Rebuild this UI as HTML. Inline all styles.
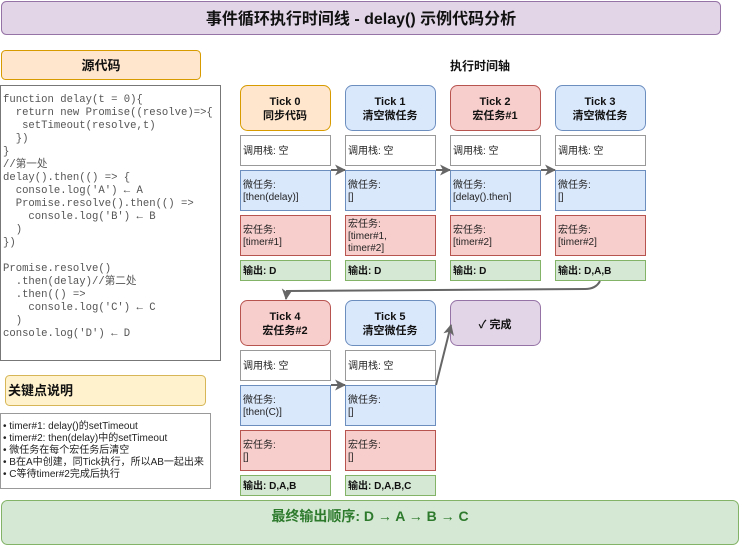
<!DOCTYPE html>
<html><head><meta charset="utf-8"><style>
html,body{margin:0;padding:0;background:#fff;width:740px;height:545px;overflow:hidden}
svg{display:block}
text{font-family:"Liberation Sans","Noto Sans CJK SC",sans-serif;}
g.m text{font-family:"Liberation Mono","Noto Sans CJK SC",monospace;font-size:10.6px;fill:#555}
.s{font-size:10px;fill:#222}
.b{font-size:11px;font-weight:bold;fill:#111}
.o{font-size:10px;font-weight:bold;fill:#111}
</style></head><body>
<svg width="740" height="545" xmlns="http://www.w3.org/2000/svg">
<defs><marker id="ar" markerWidth="11" markerHeight="11" refX="10" refY="5.5" orient="auto" markerUnits="userSpaceOnUse"><path d="M0,0 L11,5.5 L0,11 L3,5.5 z" fill="#666"/></marker></defs>
<!-- title -->
<rect x="1.5" y="1.5" width="719" height="33" rx="5" fill="#e1d5e7" stroke="#9673a6"/>
<text x="361" y="24" text-anchor="middle" font-size="16" font-weight="bold" fill="#111">事件循环执行时间线 - delay() 示例代码分析</text>
<!-- source header -->
<rect x="1.5" y="50.5" width="199" height="29" rx="4" fill="#ffe6cc" stroke="#d79b00"/>
<text x="101" y="70" text-anchor="middle" font-size="13" font-weight="bold" fill="#111">源代码</text>
<rect x="0.5" y="85.5" width="220" height="275" fill="#fff" stroke="#777"/>
<g class="m">
<text x="3" y="102">function delay(t = 0){</text>
<text x="3" y="115" xml:space="preserve">  return new Promise((resolve)=>{</text>
<text x="3" y="128" xml:space="preserve">   setTimeout(resolve,t)</text>
<text x="3" y="141" xml:space="preserve">  })</text>
<text x="3" y="154">}</text>
<text x="3" y="167">//第一处</text>
<text x="3" y="180">delay().then(() =&gt; {</text>
<text x="3" y="193" xml:space="preserve">  console.log('A') ← A</text>
<text x="3" y="206" xml:space="preserve">  Promise.resolve().then(() =&gt;</text>
<text x="3" y="219" xml:space="preserve">    console.log('B') ← B</text>
<text x="3" y="232" xml:space="preserve">  )</text>
<text x="3" y="245">})</text>
<text x="3" y="271">Promise.resolve()</text>
<text x="3" y="284" xml:space="preserve">  .then(delay)//第二处</text>
<text x="3" y="297" xml:space="preserve">  .then(() =&gt;</text>
<text x="3" y="310" xml:space="preserve">    console.log('C') ← C</text>
<text x="3" y="323" xml:space="preserve">  )</text>
<text x="3" y="336">console.log('D') ← D</text>
</g>
<!-- key points -->
<rect x="5.5" y="375.5" width="200" height="30" rx="4" fill="#fff2cc" stroke="#d6b656"/>
<text x="8" y="395" font-size="13" font-weight="bold" fill="#111">关键点说明</text>
<rect x="0.5" y="413.5" width="210" height="75" fill="#fff" stroke="#999"/>
<g class="s">
<text x="3" y="429">• timer#1: delay()的setTimeout</text>
<text x="3" y="441">• timer#2: then(delay)中的setTimeout</text>
<text x="3" y="453">• 微任务在每个宏任务后清空</text>
<text x="3" y="465">• B在A中创建，同Tick执行，所以AB一起出来</text>
<text x="3" y="477">• C等待timer#2完成后执行</text>
</g>
<text x="480" y="70" text-anchor="middle" font-size="12" font-weight="bold" fill="#111">执行时间轴</text>

<!-- Row 1 -->
<g>
<rect x="240.5" y="85.5" width="90" height="45" rx="7" fill="#ffe6cc" stroke="#d79b00"/>
<text x="285" y="105" text-anchor="middle" class="b">Tick 0</text><text x="285" y="119" text-anchor="middle" class="b">同步代码</text>
<rect x="345.5" y="85.5" width="90" height="45" rx="7" fill="#dae8fc" stroke="#6c8ebf"/>
<text x="390" y="105" text-anchor="middle" class="b">Tick 1</text><text x="390" y="119" text-anchor="middle" class="b">清空微任务</text>
<rect x="450.5" y="85.5" width="90" height="45" rx="7" fill="#f8cecc" stroke="#b85450"/>
<text x="495" y="105" text-anchor="middle" class="b">Tick 2</text><text x="495" y="119" text-anchor="middle" class="b">宏任务#1</text>
<rect x="555.5" y="85.5" width="90" height="45" rx="7" fill="#dae8fc" stroke="#6c8ebf"/>
<text x="600" y="105" text-anchor="middle" class="b">Tick 3</text><text x="600" y="119" text-anchor="middle" class="b">清空微任务</text>
</g>
<g class="s">
<rect x="240.5" y="135.5" width="90" height="30" fill="#fff" stroke="#999"/><text x="243" y="154">调用栈: 空</text>
<rect x="345.5" y="135.5" width="90" height="30" fill="#fff" stroke="#999"/><text x="348" y="154">调用栈: 空</text>
<rect x="450.5" y="135.5" width="90" height="30" fill="#fff" stroke="#999"/><text x="453" y="154">调用栈: 空</text>
<rect x="555.5" y="135.5" width="90" height="30" fill="#fff" stroke="#999"/><text x="558" y="154">调用栈: 空</text>

<rect x="240.5" y="170.5" width="90" height="40" fill="#dae8fc" stroke="#6c8ebf"/><text x="243" y="188">微任务:</text><text x="243" y="200">[then(delay)]</text>
<rect x="345.5" y="170.5" width="90" height="40" fill="#dae8fc" stroke="#6c8ebf"/><text x="348" y="188">微任务:</text><text x="348" y="200">[]</text>
<rect x="450.5" y="170.5" width="90" height="40" fill="#dae8fc" stroke="#6c8ebf"/><text x="453" y="188">微任务:</text><text x="453" y="200">[delay().then]</text>
<rect x="555.5" y="170.5" width="90" height="40" fill="#dae8fc" stroke="#6c8ebf"/><text x="558" y="188">微任务:</text><text x="558" y="200">[]</text>

<rect x="240.5" y="215.5" width="90" height="40" fill="#f8cecc" stroke="#b85450"/><text x="243" y="233">宏任务:</text><text x="243" y="245">[timer#1]</text>
<rect x="345.5" y="215.5" width="90" height="40" fill="#f8cecc" stroke="#b85450"/><text x="348" y="227">宏任务:</text><text x="348" y="239">[timer#1,</text><text x="348" y="251">timer#2]</text>
<rect x="450.5" y="215.5" width="90" height="40" fill="#f8cecc" stroke="#b85450"/><text x="453" y="233">宏任务:</text><text x="453" y="245">[timer#2]</text>
<rect x="555.5" y="215.5" width="90" height="40" fill="#f8cecc" stroke="#b85450"/><text x="558" y="233">宏任务:</text><text x="558" y="245">[timer#2]</text>
</g>
<g class="o">
<rect x="240.5" y="260.5" width="90" height="20" fill="#d5e8d4" stroke="#82b366"/><text x="243" y="274">输出: D</text>
<rect x="345.5" y="260.5" width="90" height="20" fill="#d5e8d4" stroke="#82b366"/><text x="348" y="274">输出: D</text>
<rect x="450.5" y="260.5" width="90" height="20" fill="#d5e8d4" stroke="#82b366"/><text x="453" y="274">输出: D</text>
<rect x="555.5" y="260.5" width="90" height="20" fill="#d5e8d4" stroke="#82b366"/><text x="558" y="274">输出: D,A,B</text>
</g>

<!-- Row 2 -->
<rect x="240.5" y="300.5" width="90" height="45" rx="7" fill="#f8cecc" stroke="#b85450"/>
<text x="285" y="320" text-anchor="middle" class="b">Tick 4</text><text x="285" y="334" text-anchor="middle" class="b">宏任务#2</text>
<rect x="345.5" y="300.5" width="90" height="45" rx="7" fill="#dae8fc" stroke="#6c8ebf"/>
<text x="390" y="320" text-anchor="middle" class="b">Tick 5</text><text x="390" y="334" text-anchor="middle" class="b">清空微任务</text>
<rect x="450.5" y="300.5" width="90" height="45" rx="7" fill="#e1d5e7" stroke="#9673a6"/>
<text x="495" y="328" text-anchor="middle" class="b">✓ 完成</text>
<g class="s">
<rect x="240.5" y="350.5" width="90" height="30" fill="#fff" stroke="#999"/><text x="243" y="369">调用栈: 空</text>
<rect x="345.5" y="350.5" width="90" height="30" fill="#fff" stroke="#999"/><text x="348" y="369">调用栈: 空</text>
<rect x="240.5" y="385.5" width="90" height="40" fill="#dae8fc" stroke="#6c8ebf"/><text x="243" y="403">微任务:</text><text x="243" y="415">[then(C)]</text>
<rect x="345.5" y="385.5" width="90" height="40" fill="#dae8fc" stroke="#6c8ebf"/><text x="348" y="403">微任务:</text><text x="348" y="415">[]</text>
<rect x="240.5" y="430.5" width="90" height="40" fill="#f8cecc" stroke="#b85450"/><text x="243" y="448">宏任务:</text><text x="243" y="460">[]</text>
<rect x="345.5" y="430.5" width="90" height="40" fill="#f8cecc" stroke="#b85450"/><text x="348" y="448">宏任务:</text><text x="348" y="460">[]</text>
</g>
<g class="o">
<rect x="240.5" y="475.5" width="90" height="20" fill="#d5e8d4" stroke="#82b366"/><text x="243" y="489">输出: D,A,B</text>
<rect x="345.5" y="475.5" width="90" height="20" fill="#d5e8d4" stroke="#82b366"/><text x="348" y="489">输出: D,A,B,C</text>
</g>

<!-- arrows -->
<g stroke="#666" stroke-width="2" fill="none" marker-end="url(#ar)">
<line x1="331" y1="170" x2="345" y2="170"/>
<line x1="436" y1="170" x2="450" y2="170"/>
<line x1="541" y1="170" x2="555" y2="170"/>
<line x1="331" y1="385" x2="345" y2="385"/>
<path d="M600,281 Q596,289 585,289 L287,291 L286,299"/>
<line x1="436" y1="385" x2="451" y2="325"/>
</g>

<!-- bottom -->
<rect x="1.5" y="500.5" width="737" height="44" rx="6" fill="#d5e8d4" stroke="#82b366"/>
<text x="370" y="521" text-anchor="middle" font-size="14" font-weight="bold" fill="#2d7a2d">最终输出顺序: D → A → B → C</text>
</svg>
</body></html>
